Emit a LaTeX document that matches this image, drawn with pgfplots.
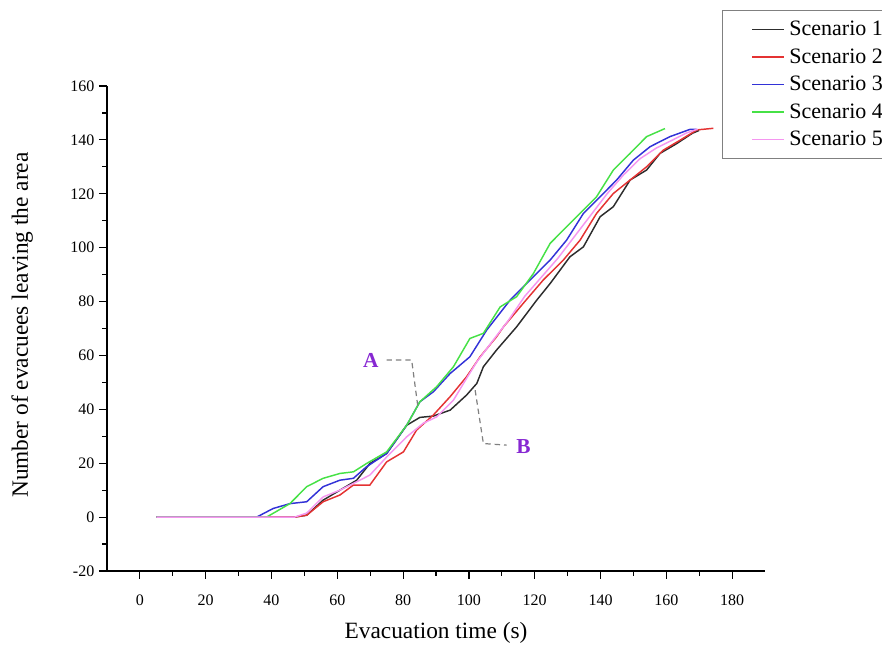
\documentclass[border=0pt]{standalone}
\usepackage{pgfplots}
\pgfplotsset{compat=1.18}
\usepackage{fontspec}
\setmainfont{Liberation Serif}

\definecolor{sc1}{RGB}{45,45,45}
\definecolor{sc2}{RGB}{228,50,50}
\definecolor{sc3}{RGB}{50,50,215}
\definecolor{sc4}{RGB}{70,225,70}
\definecolor{sc5}{RGB}{245,150,240}
\definecolor{lbl}{RGB}{135,40,210}

\begin{document}
\begin{tikzpicture}[x=0.75pt,y=0.75pt]
\begin{axis}[
  at={(0,0)}, anchor=south west,
  scale only axis,
  width=493.5pt, height=363.75pt,
  xmin=-10, xmax=190, ymin=-20, ymax=160,
  axis lines=left,
  axis line style={line width=1.1pt,-},
  xtick={0,20,...,180}, ytick={-20,0,...,160},
  minor x tick num=1, minor y tick num=1,
  tick align=outside,
  major tick length=6pt, minor tick length=3.5pt,
  tick style={line width=0.9pt,black},
  /pgf/number format/assume math mode=true,
  tick label style={font=\fontsize{12}{14}\selectfont},
  xticklabel shift=8pt,
  xlabel={Evacuation time (s)},
  ylabel={Number of evacuees leaving the area},
  label style={font=\fontsize{17.5}{20}\selectfont},
  x label style={at={(axis description cs:0.5,-0.128)},anchor=center},
  y label style={at={(axis description cs:-0.129,0.507)},anchor=center,rotate=0},
  legend style={at={(axis cs:177,188.2)},anchor=north west,
    draw=gray,line width=0.8pt,font=\fontsize{16.5}{19}\selectfont,
    row sep=4.2pt,inner xsep=4pt,inner ysep=6pt,cells={anchor=west}},
  legend image code/.code={\path[draw=none] (0pt,0pt) (44pt,0pt);
    \draw[#1,line width=1.1pt] (18pt,0pt) -- (42pt,0pt);},
  every axis plot/.append style={line width=1.1pt},
  clip=false,
]
\addplot[sc1] coordinates {(5,0) (47,0) (50.7,0.7) (55.7,6.3) (60.8,10) (65.9,13.7) (69.9,19.9) (75,23.6) (81.1,34.1) (85.1,37) (89.2,37.5) (94.3,39.7) (99.3,45.3) (102.4,49.6) (104.4,55.8) (108.4,62) (114.5,70.6) (120.6,80.5) (124.7,86.7) (130.7,96.6) (134.8,100.3) (139.9,111.5) (143.9,115.2) (149,125.1) (154,128.8) (158.1,135) (163,138.5) (168,142.5) (170,143.5)};
\addlegendentry{Scenario 1}
\addplot[sc2] coordinates {(5,0) (47,0) (50.7,0.7) (55.7,5.7) (60.8,8.2) (64.9,11.9) (69.9,11.9) (75,20.5) (80.1,24.2) (84.1,32.3) (89.2,37.9) (94.3,44.7) (99.3,52.1) (103.4,59.5) (108.4,66.9) (110.5,70.6) (116.5,79.3) (122.6,88) (128.7,95.4) (133.8,102.8) (138.8,112.7) (143.9,120.1) (149,125.1) (154,130) (159.1,136.2) (164.2,139.9) (169.3,143.7) (174.3,144.3)};
\addlegendentry{Scenario 2}
\addplot[sc3] coordinates {(5,0) (35.5,0) (40.5,3.2) (45.6,5) (50.7,5.7) (55.7,11.3) (60.8,13.7) (64.9,14.4) (68.9,18.7) (75,23.6) (81.1,34.1) (85.1,42.8) (89.2,46.5) (94.3,53.3) (100.3,59.5) (105.4,69.4) (112.5,80.5) (118.6,88) (124.7,95.4) (129.7,102.8) (134.8,112.7) (139.9,118.9) (144.9,125.1) (150,132.5) (155.1,137.5) (161.1,141.2) (167.2,143.9) (169.2,143.9)};
\addlegendentry{Scenario 3}
\addplot[sc4] coordinates {(5,0) (38.5,0) (45.6,5) (50.7,11.3) (55.7,14.4) (60.8,16.2) (64.9,16.8) (68.9,19.9) (75,24.2) (81.1,34.1) (85.1,42.8) (90.2,48.4) (95.3,55.8) (100.3,66.3) (104.4,68.2) (109.5,78) (114.5,81.8) (119.6,90.4) (124.7,101.6) (130.7,109) (138.8,118.9) (143.9,128.8) (149,135) (154,141.2) (159.6,144.2)};
\addlegendentry{Scenario 4}
\addplot[sc5] coordinates {(5,0) (47,0) (50.7,1.5) (55.7,7.5) (60.8,10) (65.9,13.1) (69.9,15.6) (75,22.3) (81.1,29.8) (86.1,34.8) (90.2,37.2) (95.3,43.4) (99.3,51.5) (102.4,57.6) (107.4,65.7) (112,73) (117,82) (122,89) (127,96) (132,104) (137,112) (142,120) (147,127) (152,133) (157,137) (162,140) (166,142.5) (169.5,144)};
\addlegendentry{Scenario 5}
% annotation leaders
\draw[gray,line width=0.9pt,dash pattern=on 4pt off 3pt] (axis cs:75,58.3) -- (axis cs:82.6,58.3) -- (axis cs:84.5,40.9);
\draw[gray,line width=0.9pt,dash pattern=on 4pt off 3pt] (axis cs:101.9,47.1) -- (axis cs:104.4,27.3) -- (axis cs:111.5,26.7);
\node[text=lbl,font=\fontsize{16}{18}\selectfont\bfseries] at (axis cs:70.2,58.3) {A};
\node[text=lbl,font=\fontsize{16}{18}\selectfont\bfseries] at (axis cs:116.6,26.3) {B};
\end{axis}
\pgfresetboundingbox
\path (-80.25pt,-55.5pt) rectangle (581.25pt,428.25pt);
\end{tikzpicture}
\end{document}
